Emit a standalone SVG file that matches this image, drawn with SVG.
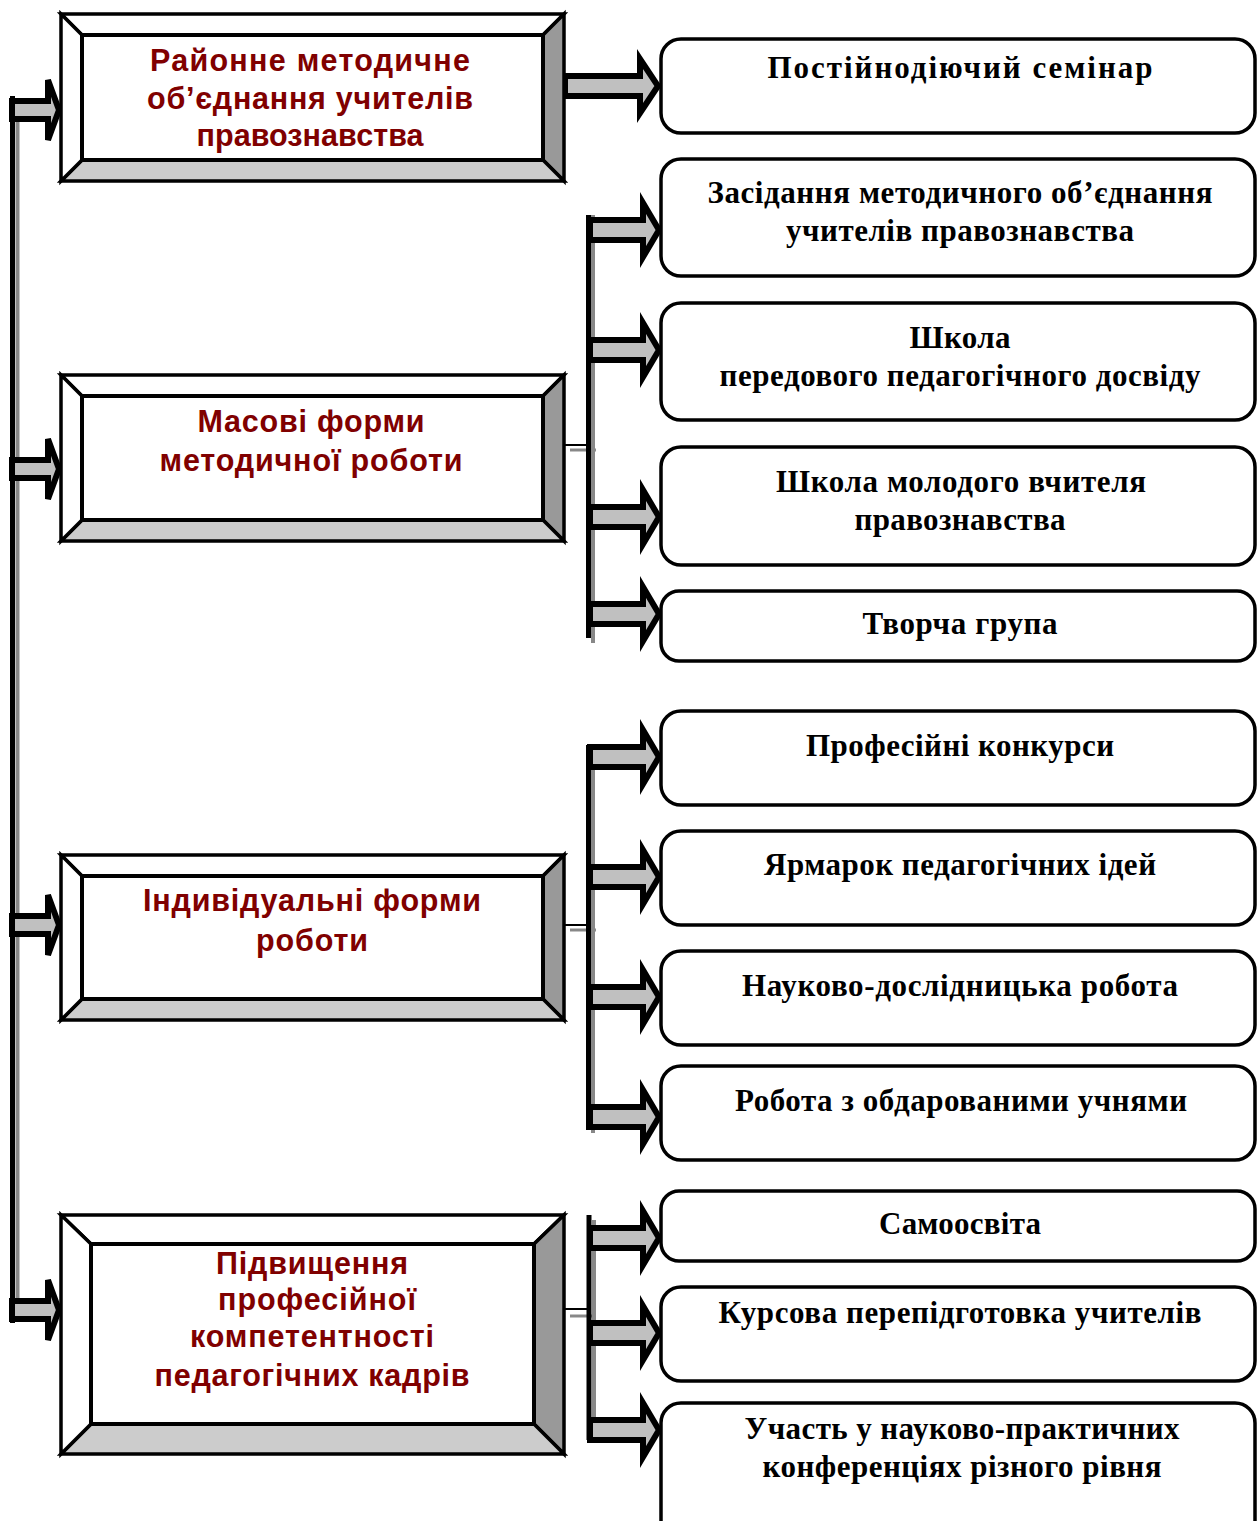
<svg xmlns="http://www.w3.org/2000/svg" width="1257" height="1521" viewBox="0 0 1257 1521">
<style>
.bev{stroke:#000;stroke-width:3.5;stroke-linejoin:miter}
.w{fill:#fff}.lg{fill:#cccccc}.dg{fill:#999999}
.in{fill:#fff;stroke:#000;stroke-width:4}
.arr{fill:#c0c0c0;stroke:#000;stroke-width:6;stroke-linejoin:miter}
.rb{fill:#fff;stroke:#000;stroke-width:3.5}
.lt{font-family:"Liberation Sans",Arial,sans-serif;font-weight:bold;font-size:30.5px;fill:#800000;text-anchor:middle}
.rt{font-family:"Liberation Serif","Times New Roman",serif;font-weight:bold;font-size:31px;fill:#000;text-anchor:middle}
.vb{stroke:#000;stroke-width:5;fill:none}
.vg{stroke:#888;stroke-width:4;fill:none}
</style>
<g id="connectors">
  <line class="vg" x1="17.5" y1="98" x2="17.5" y2="1322"/>
  <line class="vb" x1="12.5" y1="96" x2="12.5" y2="1323"/>
  <polygon class="arr" points="12,101 48,101 48,80 59,110 48,140 48,119 12,119"/>
  <polygon class="arr" points="12,460 48,460 48,439 59,469 48,499 48,478 12,478"/>
  <polygon class="arr" points="12,916 48,916 48,895 59,925 48,955 48,934 12,934"/>
  <polygon class="arr" points="12,1301 48,1301 48,1280 59,1310 48,1340 48,1319 12,1319"/>
  <polygon class="arr" points="565,76 640,76 640,59 658,86 640,113 640,96 565,96"/>
  <line x1="565" y1="445" x2="591" y2="445" stroke="#000" stroke-width="2"/>
  <line x1="570" y1="450" x2="596" y2="450" stroke="#888" stroke-width="3"/>
  <line class="vg" x1="593" y1="215" x2="593" y2="643"/>
  <line class="vb" x1="588.5" y1="215" x2="588.5" y2="638"/>
  <polygon class="arr" points="590,220 643,220 643,203 659,230 643,257 643,240 590,240"/>
  <polygon class="arr" points="590,340 643,340 643,323 659,350 643,377 643,360 590,360"/>
  <polygon class="arr" points="590,507 643,507 643,490 659,517 643,544 643,527 590,527"/>
  <polygon class="arr" points="590,604 643,604 643,587 659,614 643,641 643,624 590,624"/>
  <line x1="565" y1="925" x2="591" y2="925" stroke="#000" stroke-width="2"/>
  <line x1="570" y1="930" x2="596" y2="930" stroke="#888" stroke-width="3"/>
  <line class="vg" x1="593" y1="745" x2="593" y2="1133"/>
  <line class="vb" x1="588.5" y1="745" x2="588.5" y2="1130"/>
  <polygon class="arr" points="590,747 643,747 643,730 659,757 643,784 643,767 590,767"/>
  <polygon class="arr" points="590,867 643,867 643,850 659,877 643,904 643,887 590,887"/>
  <polygon class="arr" points="590,987 643,987 643,970 659,997 643,1024 643,1007 590,1007"/>
  <polygon class="arr" points="590,1107 643,1107 643,1090 659,1117 643,1144 643,1127 590,1127"/>
  <line x1="565" y1="1309" x2="591" y2="1309" stroke="#000" stroke-width="2"/>
  <line x1="570" y1="1316" x2="596" y2="1316" stroke="#888" stroke-width="3"/>
  <line class="vb" x1="589" y1="1215" x2="589" y2="1440"/>
  <line class="vg" x1="594" y1="1220" x2="594" y2="1420"/>
  <polygon class="arr" points="590,1228 643,1228 643,1211 659,1238 643,1265 643,1248 590,1248"/>
  <polygon class="arr" points="590,1323 643,1323 643,1306 659,1333 643,1360 643,1343 590,1343"/>
  <polygon class="arr" points="590,1420 643,1420 643,1403 659,1430 643,1457 643,1440 590,1440"/>
</g>
<g id="box1">
  <polygon class="bev w" points="61,14 564,14 543,35 82,35"/>
  <polygon class="bev dg" points="564,14 564,181 543,160 543,35"/>
  <polygon class="bev lg" points="61,181 564,181 543,160 82,160"/>
  <polygon class="bev w" points="61,14 82,35 82,160 61,181"/>
  <rect class="in" x="82" y="35" width="461" height="125"/>
  <text class="lt" x="310" y="71" textLength="320" lengthAdjust="spacing">Районне методичне</text>
  <text class="lt" x="310" y="109" textLength="326" lengthAdjust="spacing">об’єднання учителів</text>
  <text class="lt" x="310" y="146" textLength="227" lengthAdjust="spacing">правознавства</text>
</g>
<g id="box2">
  <polygon class="bev w" points="61,375 564,375 543,396 82,396"/>
  <polygon class="bev dg" points="564,375 564,541 543,520 543,396"/>
  <polygon class="bev lg" points="61,541 564,541 543,520 82,520"/>
  <polygon class="bev w" points="61,375 82,396 82,520 61,541"/>
  <rect class="in" x="82" y="396" width="461" height="124"/>
  <text class="lt" x="311" y="432" textLength="227" lengthAdjust="spacing">Масові форми</text>
  <text class="lt" x="311" y="471" textLength="303" lengthAdjust="spacing">методичної роботи</text>
</g>
<g id="box3">
  <polygon class="bev w" points="61,855 564,855 543,876 82,876"/>
  <polygon class="bev dg" points="564,855 564,1020 543,999 543,876"/>
  <polygon class="bev lg" points="61,1020 564,1020 543,999 82,999"/>
  <polygon class="bev w" points="61,855 82,876 82,999 61,1020"/>
  <rect class="in" x="82" y="876" width="461" height="123"/>
  <text class="lt" x="312" y="911" textLength="338" lengthAdjust="spacing">Індивідуальні форми</text>
  <text class="lt" x="312" y="951" textLength="112" lengthAdjust="spacing">роботи</text>
</g>
<g id="box4">
  <polygon class="bev w" points="61,1215 564,1215 534,1244 91,1244"/>
  <polygon class="bev dg" points="564,1215 564,1454 534,1424 534,1244"/>
  <polygon class="bev lg" points="61,1454 564,1454 534,1424 91,1424"/>
  <polygon class="bev w" points="61,1215 91,1244 91,1424 61,1454"/>
  <rect class="in" x="91" y="1244" width="443" height="180"/>
  <text class="lt" x="312" y="1274" textLength="192" lengthAdjust="spacing">Підвищення</text>
  <text class="lt" x="317" y="1310" textLength="198" lengthAdjust="spacing">професійної</text>
  <text class="lt" x="312" y="1347" textLength="244" lengthAdjust="spacing">компетентності</text>
  <text class="lt" x="312" y="1386" textLength="315" lengthAdjust="spacing">педагогічних кадрів</text>
</g>
<g id="r1"><rect class="rb" x="661" y="39" width="594" height="94" rx="20"/><text class="rt" x="960" y="78" textLength="385" lengthAdjust="spacing">Постійнодіючий семінар</text></g>
<g id="r2"><rect class="rb" x="661" y="159" width="594" height="117" rx="20"/><text class="rt" x="960" y="203" textLength="505" lengthAdjust="spacing">Засідання методичного об’єднання</text><text class="rt" x="960" y="241" textLength="348" lengthAdjust="spacing">учителів правознавства</text></g>
<g id="r3"><rect class="rb" x="661" y="303" width="594" height="117" rx="20"/><text class="rt" x="960" y="348" textLength="101" lengthAdjust="spacing">Школа</text><text class="rt" x="960" y="386" textLength="481" lengthAdjust="spacing">передового педагогічного досвіду</text></g>
<g id="r4"><rect class="rb" x="661" y="447" width="594" height="118" rx="20"/><text class="rt" x="961" y="492" textLength="370" lengthAdjust="spacing">Школа молодого вчителя</text><text class="rt" x="960" y="530" textLength="211" lengthAdjust="spacing">правознавства</text></g>
<g id="r5"><rect class="rb" x="661" y="591" width="594" height="70" rx="18"/><text class="rt" x="960" y="634" textLength="195" lengthAdjust="spacing">Творча група</text></g>
<g id="r6"><rect class="rb" x="661" y="711" width="594" height="94" rx="20"/><text class="rt" x="960" y="756" textLength="308" lengthAdjust="spacing">Професійні конкурси</text></g>
<g id="r7"><rect class="rb" x="661" y="831" width="594" height="94" rx="20"/><text class="rt" x="960" y="875" textLength="392" lengthAdjust="spacing">Ярмарок педагогічних ідей</text></g>
<g id="r8"><rect class="rb" x="661" y="951" width="594" height="94" rx="20"/><text class="rt" x="960" y="996" textLength="436" lengthAdjust="spacing">Науково-дослідницька робота</text></g>
<g id="r9"><rect class="rb" x="661" y="1066" width="594" height="94" rx="20"/><text class="rt" x="961" y="1111" textLength="452" lengthAdjust="spacing">Робота з обдарованими учнями</text></g>
<g id="r10"><rect class="rb" x="661" y="1191" width="594" height="70" rx="18"/><text class="rt" x="960" y="1234" textLength="162" lengthAdjust="spacing">Самоосвіта</text></g>
<g id="r11"><rect class="rb" x="661" y="1287" width="594" height="94" rx="20"/><text class="rt" x="960" y="1323" textLength="483" lengthAdjust="spacing">Курсова перепідготовка учителів</text></g>
<g id="r12"><rect class="rb" x="661" y="1403" width="594" height="150" rx="20"/><text class="rt" x="962" y="1439" textLength="435" lengthAdjust="spacing">Участь у науково-практичних</text><text class="rt" x="962" y="1477" textLength="399" lengthAdjust="spacing">конференціях різного рівня</text></g>
</svg>
